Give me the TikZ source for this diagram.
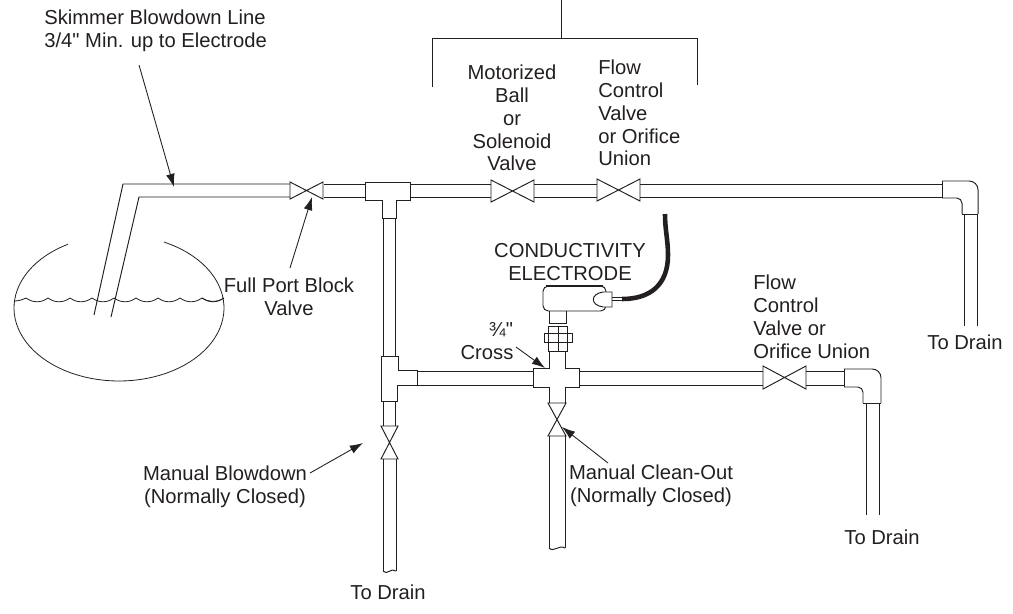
\documentclass[tikz,border=0pt]{standalone}
\usepackage{fontspec}
\setmainfont{Liberation Sans}[Ligatures=TeXOff]
\usetikzlibrary{arrows.meta}
\definecolor{ink}{HTML}{231F20}

\tikzset{
    pipe/.style={draw=ink, line width=0.55pt},
    lbl/.style={inner sep=0pt, text=ink, font=\fontsize{11.5}{13}\selectfont},
    leader/.style={draw=ink, line width=0.5pt, -{Latex[length=7.5pt,width=5pt]}}
}

\begin{document}
\begin{tikzpicture}[x=0.02cm, y=-0.02cm]

\useasboundingbox (0,0) rectangle (1013,613);

% bracket
\draw [pipe] (432,87) -- (432,38) -- (697,38) -- (697,85);
\draw [pipe] (561,0) -- (561,38);

% tank
\draw [pipe, line width=0.45pt, domain=-64.6:241, samples=80] plot ({119+105*cos(\x)},{308+73*sin(\x)});
\foreach \i in {0,...,8} {
    \draw [pipe, line width=0.45pt] ({26+22*\i},298) .. controls ({33+22*\i},303) and ({41+22*\i},303) .. ({48+22*\i},298);
}
\draw [pipe, line width=0.45pt] (14,301) .. controls (18,301) and (22,300) .. (26,298);
\draw [pipe, line width=0.45pt] (202,298) .. controls (208,302) and (216,303) .. (224,298);

% skimmer line
\draw [pipe] (94,315) -- (123,184) -- (290,184);
\draw [pipe] (111,317) -- (139,197) -- (290,197);

% straight pipes along the top and the cross branch
\foreach \xa/\xb/\ya/\yb in {
    324/365/184/197, 410/491/184/197, 534/597/184/197, 640/942/184/197,
    417/533/371/385, 579/763/371/385, 806/844/371/385} {
    \draw [pipe] (\xa,\ya) -- (\xb,\ya);
    \draw [pipe] (\xa,\yb) -- (\xb,\yb);
}

% vertical pipes
\foreach \xa/\xb/\ya/\yb in {
    383/395/218/356, 383/395/401/426, 383/396/459/571,
    549/565/436/548, 964/977/214/326, 866/879/403/515} {
    \draw [pipe] (\xa,\ya) -- (\xa,\yb);
    \draw [pipe] (\xb,\ya) -- (\xb,\yb);
}
% broken pipe ends
\draw [pipe] (383,571) .. controls (387,576) and (391,567) .. (396,571);
\draw [pipe] (549,548) .. controls (554,553) and (559,544) .. (565,548);

% valves on the horizontal pipes
\foreach \xa/\xb/\ya/\yb in {
    290/323/182/199, 491/534/180/202, 597/640/179/201, 763/806/366/389} {
    \draw [pipe] (\xa,\ya) -- (\xb,\yb) -- (\xb,\ya) -- (\xa,\yb) -- cycle;
}
% valves on the vertical pipes
\foreach \xa/\xb/\ya/\yb in {
    381/398/426/459, 548/566/403/436} {
    \draw [pipe] (\xa,\ya) -- (\xb,\yb) -- (\xa,\yb) -- (\xb,\ya) -- cycle;
}

% tees
\draw [pipe] (365,182) -- (410,182) -- (410,200) -- (396,200) -- (396,218) -- (382,218) -- (382,200) -- (365,200) -- cycle;
\draw [pipe] (381,356) -- (398,356) -- (398,370) -- (417,370) -- (417,385) -- (397,385) -- (397,401) -- (381,401) -- cycle;

% cross
\draw [pipe] (549,351) -- (549,368) -- (533,368) -- (533,387) -- (549,387) -- (549,403);
\draw [pipe] (565,351) -- (565,368) -- (579,368) -- (579,387) -- (565,387) -- (565,403);

% elbows
\draw [pipe, rounded corners=5pt] (942,181) -- (978,181) -- (978,214);
\draw [pipe] (978,214) -- (962,214);
\draw [pipe, rounded corners=3pt] (962,214) -- (962,198) -- (942,198);
\draw [pipe] (942,198) -- (942,181);
\draw [pipe, rounded corners=5pt] (844,369) -- (881,369) -- (881,403);
\draw [pipe] (881,403) -- (863,403);
\draw [pipe, rounded corners=3pt] (863,403) -- (863,387) -- (844,387);
\draw [pipe] (844,387) -- (844,369);

% electrode
\draw [pipe] (548,326) rectangle (567,351);
\draw [pipe] (558,326) -- (558,351);
\draw [pipe] (544,333) rectangle (572,342);
\draw [pipe] (549,311) -- (549,323) -- (566,323) -- (566,311);
\draw [pipe, rounded corners=3pt] (543,311) -- (543,286) -- (606,286) -- (606,311) -- cycle;
\draw [ink, line width=1.3pt] (546,286) -- (603,286);
\draw [pipe, fill=white] (612,292) -- (603,292) .. controls (590,294) and (590,305) .. (603,307) -- (612,307) -- cycle;
\draw [pipe] (612,297) -- (622,297);
\draw [pipe] (612,300) -- (622,300);
\draw [ink, line width=2.6pt] (622,299) .. controls (650,299) and (668,285) .. (668,255) .. controls (668,240) and (665,230) .. (665,214);

% labels
\node [lbl, anchor=west, align=left] (skimmer) at (44,31) {Skimmer Blowdown Line\\3/4" Min. up to Electrode};
\node [lbl, align=center] (fullport) at (289,297) {Full Port Block\\Valve};
\node [lbl, align=center] (motorized) at (512,118) {Motorized\\Ball\\or\\Solenoid\\Valve};
\node [lbl, anchor=west, align=left] (flowtop) at (598,113) {Flow\\Control\\Valve\\or Orifice\\Union};
\node [lbl, align=center] (electrode) at (570,262) {\fontsize{11.5}{14.4}\selectfont CONDUCTIVITY\\ELECTRODE};
\node [lbl] (size) at (501,330) {¾"};
\node [lbl] (cross) at (487,353) {Cross};
\node [lbl, anchor=west, align=left] (flowlow) at (753,317) {Flow\\Control\\Valve or\\Orifice Union};
\node [lbl] (drainright) at (965,342) {To Drain};
\node [lbl] (drainmid) at (882,537) {To Drain};
\node [lbl] (drainlow) at (388,592) {To Drain};
\node [lbl, align=center] (blowdown) at (225,487) {Manual Blowdown\\(Normally Closed)};
\node [lbl, align=center] (cleanout) at (651,486) {Manual Clean-Out\\(Normally Closed)};

% leaders
\coordinate (skimstart) at (139,65);
\coordinate (skimtip) at (174,187);
\coordinate (portstart) at (290,268);
\coordinate (porttip) at (312,197);
\coordinate (crossstart) at (516,347);
\coordinate (crosstip) at (545,368);
\coordinate (blowstart) at (310,473);
\coordinate (blowtip) at (363,443);
\coordinate (cleanstart) at (608,463);
\coordinate (cleantip) at (562,427);
\draw [leader] (skimstart) -- (skimtip);
\draw [leader] (portstart) -- (porttip);
\draw [leader] (crossstart) -- (crosstip);
\draw [leader] (blowstart) -- (blowtip);
\draw [leader] (cleanstart) -- (cleantip);

\end{tikzpicture}
\end{document}
